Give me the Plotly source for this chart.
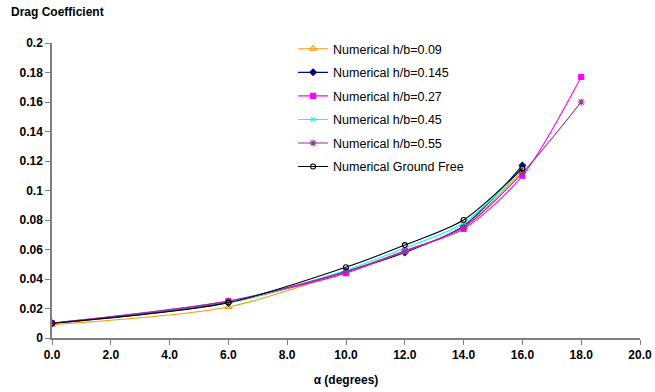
import plotly.graph_objects as go

alpha = [0, 6, 10, 12, 14, 16]
alpha_ext = [0, 6, 10, 12, 14, 16, 18]

cd_009 = [0.009, 0.021, 0.045, 0.059, 0.075, 0.114]
cd_0145 = [0.010, 0.024, 0.045, 0.058, 0.076, 0.117]
cd_027 = [0.010, 0.025, 0.044, 0.059, 0.074, 0.110, 0.177]
cd_045 = [0.010, 0.024, 0.046, 0.061, 0.078, 0.115]
cd_055 = [0.010, 0.025, 0.045, 0.059, 0.075, 0.112, 0.160]
cd_free = [0.010, 0.024, 0.048, 0.063, 0.080, 0.115]

series = [
    ("Numerical h/b=0.09", alpha, cd_009, "#FF9900", "triangle-up-open", 6),
    ("Numerical h/b=0.145", alpha, cd_0145, "#000080", "diamond", 5),
    ("Numerical h/b=0.27", alpha_ext, cd_027, "#FF00FF", "square", 5),
    ("Numerical h/b=0.45", alpha, cd_045, "#00FFFF", "x-thin-open", 5),
    ("Numerical h/b=0.55", alpha_ext, cd_055, "#993399", "asterisk-open", 6),
    ("Numerical Ground Free", alpha, cd_free, "#000000", "circle-open", 5),
]

fig = go.Figure()
for i, (name, x, y, color, sym, size) in enumerate(series):
    fig.add_trace(go.Scatter(
        x=x, y=y, name=name, mode="lines+markers", legendgroup="g%d" % i,
        line=dict(color=color, width=1.1, shape="spline", smoothing=0.8),
        marker=dict(symbol=sym, size=size, color=color, line=dict(color=color, width=1.1)),
    ))

fig.update_layout(
    width=655, height=392,
    margin=dict(l=52, r=15, t=43, b=54),
    paper_bgcolor="white", plot_bgcolor="white",
    font=dict(family="Arial, Liberation Sans", size=12, color="black"),
    showlegend=True,
    legend=dict(x=0.41, y=1.03, xanchor="left", yanchor="top",
                bgcolor="rgba(0,0,0,0)", font=dict(size=12.5), tracegroupgap=4.3,
                itemwidth=30),
    xaxis=dict(range=[0, 20], tickvals=[0, 2, 4, 6, 8, 10, 12, 14, 16, 18, 20],
               tickformat=".1f", showgrid=False, zeroline=False, automargin=False,
               showline=True, linecolor="#808080", linewidth=1.5,
               ticks="outside", tickcolor="#808080", ticklen=5,
               tickfont=dict(family="Arial, Liberation Sans", size=12, weight="bold"),
               title=dict(text="<b>α (degrees)</b>", font=dict(size=12), standoff=14)),
    yaxis=dict(range=[0, 0.2], tickvals=[0, 0.02, 0.04, 0.06, 0.08, 0.1, 0.12, 0.14, 0.16, 0.18, 0.2],
               showgrid=False, zeroline=False, automargin=False,
               showline=True, linecolor="#808080", linewidth=1.5,
               ticks="outside", tickcolor="#808080", ticklen=5,
               tickfont=dict(family="Arial, Liberation Sans", size=12, weight="bold")),
    annotations=[dict(text="<b>Drag Coefficient</b>", x=0, y=1, xref="paper", yref="paper",
                      xanchor="left", yanchor="bottom", showarrow=False,
                      xshift=-43, yshift=22, font=dict(size=12))],
)

fig.write_html("out.html")
